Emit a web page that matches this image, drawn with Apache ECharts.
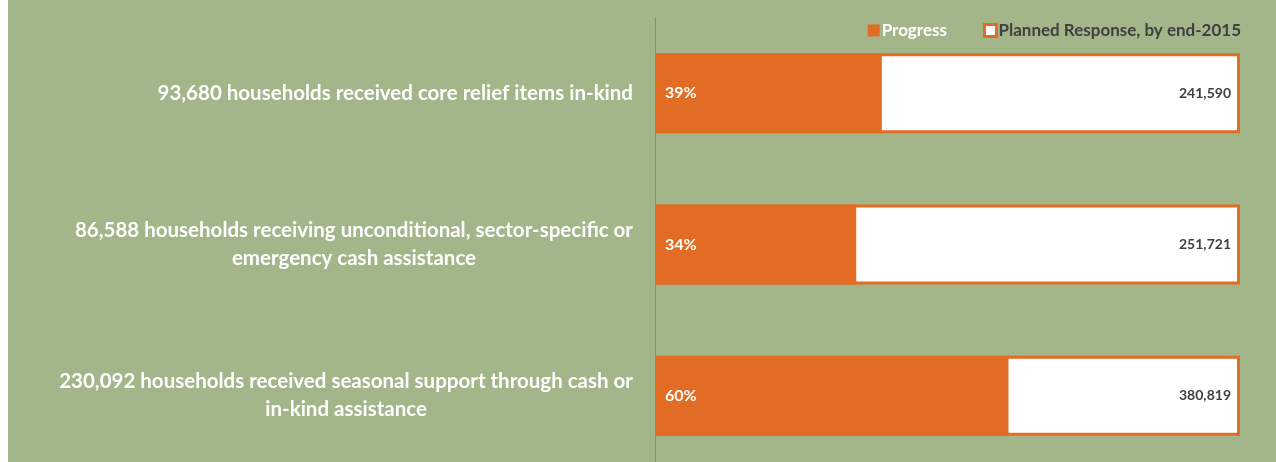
<!DOCTYPE html>
<html>
<head>
<meta charset="utf-8">
<script src="https://cdn.jsdelivr.net/npm/echarts@6/dist/echarts.min.js"></script>
<style>
  html, body { margin: 0; padding: 0; background: #ffffff; }
  #chart { position: absolute; left: 8px; top: 0; width: 1268px; height: 462px; }
</style>
</head>
<body>
<div id="chart"></div>
<script>
// ---- Data ----
const categories = [
  '93,680 households received core relief items in-kind',
  '86,588 households receiving unconditional, sector-specific or\nemergency cash assistance',
  '230,092 households received seasonal support through cash or\nin-kind assistance'
];
const achieved = [93680, 86588, 230092];
const planned = [241590, 251721, 380819];
const seriesNames = ['Progress', 'Planned Response, by end-2015'];

// ---- Derived ----
const progressPct = achieved.map((a, i) => a / planned[i] * 100);
const plannedFull = planned.map(() => 100);

const FONT = 'Lato';
const ORANGE = '#e36c24';
const GREEN = '#a3b68a';
const DARK = '#404040';

const chart = echarts.init(document.getElementById('chart'));
chart.setOption({
  backgroundColor: GREEN,
  animation: false,
  textStyle: { fontFamily: FONT },
  legend: {
    right: 30,
    top: 17,
    itemWidth: 12,
    itemHeight: 12,
    itemGap: 36,
    icon: 'rect',
    data: [
      { name: seriesNames[0], textStyle: { color: '#ffffff' } },
      { name: seriesNames[1], textStyle: { color: DARK },
        itemStyle: { color: '#ffffff', borderColor: ORANGE, borderWidth: 3 } }
    ],
    textStyle: { fontFamily: FONT, fontWeight: 'bold', fontSize: 17, padding: [0, 0, 0, -3] }
  },
  grid: { left: 647, right: 36, top: 17.5, height: 454, containLabel: false, outerBoundsMode: 'none' },
  xAxis: { type: 'value', min: 0, max: 100, show: false },
  yAxis: {
    type: 'category',
    inverse: true,
    data: categories,
    axisLine: { show: true, lineStyle: { color: '#8a8a8a', width: 1 } },
    axisTick: { show: false },
    splitLine: { show: false },
    axisLabel: {
      margin: 22,
      formatter: v => v.split('\n').map(l => '{c|' + l + '}').join('\n'),
      rich: {
        c: { align: 'center', color: '#ffffff', fontWeight: 'bold', fontSize: 20.5,
             fontFamily: FONT, lineHeight: 28 }
      }
    }
  },
  series: [
    {
      name: seriesNames[1],
      type: 'bar',
      data: plannedFull,
      barWidth: 80,
      itemStyle: { color: '#ffffff', borderColor: ORANGE, borderWidth: 3 },
      label: {
        show: true,
        position: 'insideRight',
        distance: 9,
        formatter: p => planned[p.dataIndex].toLocaleString('en-US'),
        color: DARK, fontWeight: 'bold', fontSize: 14, fontFamily: FONT
      }
    },
    {
      name: seriesNames[0],
      type: 'bar',
      data: progressPct,
      barWidth: 80,
      barGap: '-100%',
      itemStyle: { color: ORANGE },
      label: {
        show: true,
        position: 'insideLeft',
        distance: 10,
        formatter: p => Math.round(p.value) + '%',
        color: '#ffffff', fontWeight: 'bold', fontSize: 16, fontFamily: FONT
      }
    }
  ]
});
</script>
</body>
</html>
